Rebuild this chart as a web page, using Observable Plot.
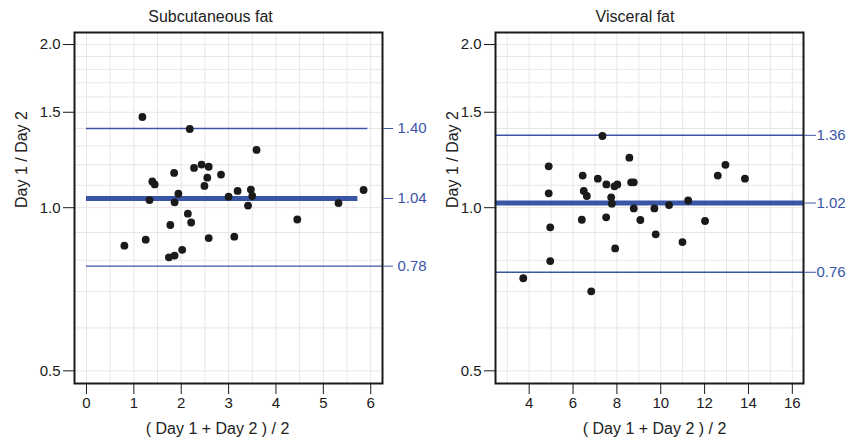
<!DOCTYPE html>
<html><head><meta charset="utf-8">
<script src="https://cdn.jsdelivr.net/npm/d3@7"></script>
<script src="https://cdn.jsdelivr.net/npm/@observablehq/plot@0.6"></script>
<style>
body{margin:0;background:#fff;}
#wrap{position:relative;width:849px;height:438px;}
#wrap svg{position:absolute;top:0;overflow:visible;}
</style></head><body><div id="wrap"></div>
<script>
// ---- Data: Subcutaneous fat ----
const subMean = [0.80,1.18,1.25,1.33,1.39,1.44,1.74,1.77,1.85,1.86,1.86,1.94,2.02,2.14,2.18,2.21,2.27,2.43,2.49,2.55,2.58,2.58,2.84,3.00,3.12,3.19,3.41,3.47,3.50,3.59,4.45,5.32,5.85];
const subRatio = [0.851,1.470,0.873,1.033,1.118,1.104,0.810,0.929,1.159,1.023,0.816,1.061,0.836,0.975,1.397,0.939,1.184,1.201,1.097,1.136,1.190,0.879,1.151,1.048,0.884,1.074,1.009,1.080,1.051,1.278,0.951,1.020,1.078];
// ---- Data: Visceral fat ----
const visMean = [3.73,4.89,4.89,4.96,4.96,6.40,6.44,6.49,6.63,6.83,7.13,7.34,7.51,7.52,7.74,7.77,7.89,7.92,8.02,8.57,8.65,8.77,8.77,9.07,9.71,9.77,10.38,10.99,11.25,12.02,12.60,12.95,13.84];
const visRatio = [0.741,1.192,1.063,0.920,0.797,0.950,1.146,1.074,1.051,0.701,1.131,1.356,0.960,1.104,1.045,1.017,1.095,0.841,1.104,1.237,1.114,1.114,0.997,0.949,0.997,0.893,1.011,0.864,1.031,0.945,1.146,1.200,1.131];
// limits of agreement: upper, mean, lower
const subLimits = [1.40, 1.04, 0.78];
const visLimits = [1.36, 1.02, 0.76];
const subLineFrom = [0, 0, 0];
const subLineTo = [5.94, 5.73, 6.25];
const visLineFrom = [2.46, 2.46, 2.46];
const visLineTo = [16.51, 16.51, 16.51];
// ticks & grid
const yTicks = [0.5, 1.0, 1.5, 2.0];
const yGrid = [0.5,0.6,0.7,0.8,0.9,1.0,1.1,1.2,1.3,1.4,1.5,1.6,1.7,1.8,1.9,2.0];
const subXTicks = [0,1,2,3,4,5,6];
const subXGrid = [0,0.5,1,1.5,2,2.5,3,3.5,4,4.5,5,5.5,6];
const visXTicks = [4,6,8,10,12,14,16];
const visXGrid = [3,4,5,6,7,8,9,10,11,12,13,14,15,16];
const titles = ["Subcutaneous fat", "Visceral fat"];
const yLabel = "Day 1 / Day 2";
const xLabel = "( Day 1 + Day 2 ) / 2";

const blue = "#3a55a6";
const ink = "#1a1a1a";
const font = "'Liberation Sans', Arial, Helvetica, sans-serif";

function panel(o) {
  const pts = o.xs.map((x, i) => ({x, y: o.ys[i]}));
  const lines = o.limits.map((v, i) => ({v, x1: o.from[i], x2: o.to[i], mean: i === 1}));
  const H = 438, mt = 32, mb = 55;
  const frameCenter = o.marginLeft + (o.width - o.marginLeft - o.marginRight) / 2;
  return Plot.plot({
    width: o.width, height: H,
    marginLeft: o.marginLeft, marginRight: o.marginRight, marginTop: mt, marginBottom: mb,
    style: {fontFamily: font, fontSize: "15px", color: ink, background: "transparent", overflow: "visible"},
    x: {domain: o.xDomain},
    y: {type: "log", domain: [0.4738, 2.105]},
    marks: [
      Plot.ruleY(yGrid, {stroke: "#e6e6e6", strokeWidth: 1}),
      Plot.ruleX(o.xGrid, {stroke: "#e6e6e6", strokeWidth: 1}),
      Plot.ruleY(lines.filter(d => !d.mean), {y: "v", x1: "x1", x2: "x2", stroke: blue, strokeWidth: 1.4}),
      Plot.ruleY(lines.filter(d => d.mean), {y: "v", x1: "x1", x2: "x2", stroke: blue, strokeWidth: 5}),
      Plot.dot(pts, {x: "x", y: "y", r: 3.9, fill: ink, stroke: null}),
      Plot.frame({stroke: ink, strokeWidth: 2}),
      Plot.axisY({ticks: yTicks, tickFormat: ".1f", tickSize: 11, tickPadding: 3, label: null, color: ink}),
      Plot.axisX({ticks: o.xTicks, tickFormat: "d", tickSize: 11, tickPadding: 3, label: null, color: ink}),
      Plot.axisY({anchor: "right", ticks: o.limits, tickFormat: ".2f", tickSize: o.rTick, tickPadding: o.rPad, label: null, color: blue}),
      Plot.text([o.title], {frameAnchor: "top", dy: -15.5, dx: o.width / 2 - frameCenter, fontSize: 16, fill: "#222", lineAnchor: "middle"}),
      Plot.text([xLabel], {frameAnchor: "bottom", dy: 45, dx: o.xlabDx, fontSize: 16, fill: "#222", lineAnchor: "middle"}),
      Plot.text([yLabel], {frameAnchor: "left", dx: o.ylabDx, rotate: -90, fontSize: 16, fill: "#222", lineAnchor: "middle"})
    ]
  });
}

const left = panel({
  title: titles[0], xs: subMean, ys: subRatio, limits: subLimits, from: subLineFrom, to: subLineTo,
  xDomain: [-0.253, 6.249], xTicks: subXTicks, xGrid: subXGrid,
  width: 420, marginLeft: 74, marginRight: 38, ylabDx: -53, xlabDx: -11, rTick: 10, rPad: 5
});
left.style.left = "0px";
const right = panel({
  title: titles[1], xs: visMean, ys: visRatio, limits: visLimits, from: visLineFrom, to: visLineTo,
  xDomain: [2.464, 16.51], xTicks: visXTicks, xGrid: visXGrid,
  width: 429, marginLeft: 75, marginRight: 46, ylabDx: -43, xlabDx: 5, rTick: 12, rPad: 1
});
right.style.left = "420px";
const wrap = document.getElementById("wrap");
wrap.appendChild(left);
wrap.appendChild(right);
</script>
</body></html>
